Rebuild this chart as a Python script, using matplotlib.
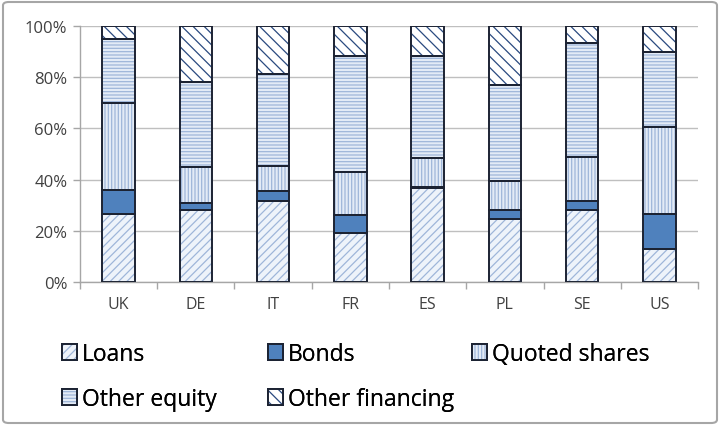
import matplotlib.pyplot as plt
import numpy as np
from matplotlib.patches import Patch, FancyBboxPatch
from matplotlib.legend_handler import HandlerTuple

# data (share of total financing, %)
countries = ['UK', 'DE', 'IT', 'FR', 'ES', 'PL', 'SE', 'US']
loans = [26.5, 28.1, 31.7, 19.3, 36.6, 24.8, 28.2, 12.8]
bonds = [9.4, 2.6, 3.9, 6.8, 0.6, 3.3, 3.5, 13.7]
quoted_shares = [34.1, 14.3, 9.8, 16.7, 11.1, 11.5, 17.0, 34.2]
other_equity = [25.0, 33.3, 35.9, 45.5, 40.0, 37.4, 44.6, 29.1]
other_financing = [5.0, 21.7, 18.7, 11.7, 11.7, 23.0, 6.7, 10.2]

labels = ['Loans', 'Bonds', 'Quoted shares', 'Other equity', 'Other financing']
series = [loans, bonds, quoted_shares, other_equity, other_financing]

# look of each series: face, hatch, hatch colour
faces = ['#EEF3FA', '#4F81BD', '#E3EBF6', '#E3EBF6', '#FFFFFF']
hatches = ['////', None, '|||||', '-----', '\\\\\\']
hatch_cols = ['#9FB6D9', '#4F81BD', '#9FB6D9', '#9FB6D9', '#2A4A80']
edge = '#1C2333'

plt.rcParams['font.family'] = ['Open Sans', 'DejaVu Sans']
plt.rcParams['hatch.linewidth'] = 0.9

W, H = 720, 427
fig = plt.figure(figsize=(W / 100, H / 100), dpi=100)
ax = fig.add_axes([80 / W, 1 - 283 / H, 618 / W, 256 / H])

x = np.arange(len(countries))
w = 0.42
bottom = np.zeros(len(countries))
handles = []
for vals, lab, fc, h, hc in zip(series, labels, faces, hatches, hatch_cols):
    ax.bar(x, vals, w, bottom=bottom, color=fc, hatch=h, edgecolor=hc, linewidth=0, zorder=2)
    ax.bar(x, vals, w, bottom=bottom, fill=False, edgecolor=edge, linewidth=1.4, zorder=3)
    bottom += np.array(vals)
    handles.append((Patch(facecolor=fc, hatch=h, edgecolor=hc, linewidth=0),
                    Patch(fill=False, edgecolor=edge, linewidth=1.4)))

ax.set_xlim(-0.5, len(countries) - 0.5)
ax.set_ylim(0, 100)
ax.set_yticks(np.arange(0, 101, 20))
ax.set_yticklabels([f'{v}%' for v in range(0, 101, 20)], fontsize=12, color='#404040')
ax.set_xticks(x)
ax.set_xticklabels(countries, fontsize=11.5, color='#404040')
ax.set_xticks(np.arange(-0.5, len(countries)), minor=True)
ax.tick_params(axis='x', which='major', length=0, pad=10)
ax.tick_params(axis='x', which='minor', length=5, color='#A6A6A6', width=1)
ax.tick_params(axis='y', length=5, color='#A6A6A6', width=1, pad=4)
ax.grid(axis='y', color='#BFBFBF', linewidth=1, zorder=0)
ax.set_axisbelow(True)
for s in ['top', 'right']:
    ax.spines[s].set_visible(False)
for s in ['left', 'bottom']:
    ax.spines[s].set_color('#A6A6A6')
    ax.spines[s].set_linewidth(1)

# legend: one entry each, placed in the grid of the original (px from top-left)
spots = [(62, 355), (268, 355), (472, 355), (62, 400), (268, 400)]
for hd, lab, (px, py) in zip(handles, labels, spots):
    leg = fig.legend([hd], [lab], handler_map={tuple: HandlerTuple(ndivide=1)},
                     loc='center left', bbox_to_anchor=(px / W, 1 - py / H), frameon=False,
                     fontsize=16.5, handlelength=0.66, handleheight=0.66,
                     handletextpad=0.2, borderpad=0, borderaxespad=0)
    fig.add_artist(leg)

# light grey frame round the whole chart
frame = FancyBboxPatch((3 / W, 3 / H), 1 - 6 / W, 1 - 6 / H, boxstyle='round,pad=0,rounding_size=0.008',
                       transform=fig.transFigure, fill=False, edgecolor='#A6A6A6', linewidth=1.5)
fig.add_artist(frame)

fig.savefig('out.png', dpi=100)
